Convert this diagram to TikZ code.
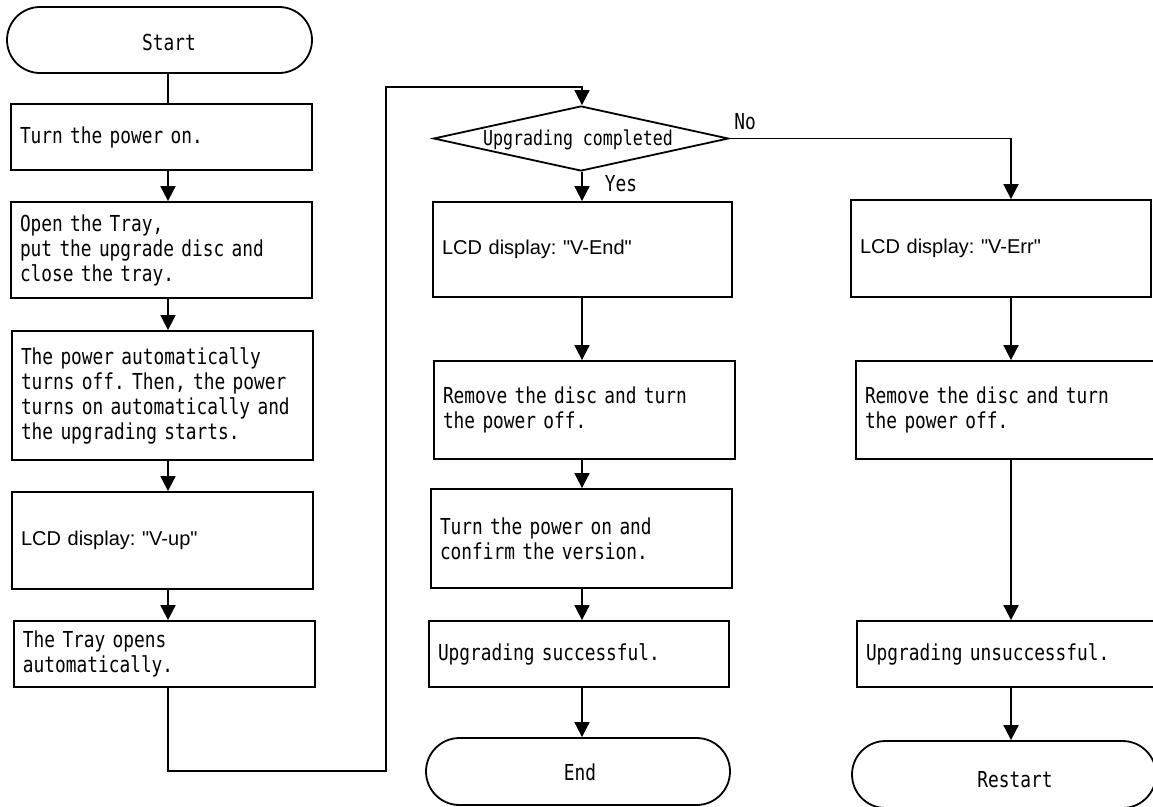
\documentclass[tikz,border=0pt]{standalone}
\usepackage{fontspec}
\newfontfamily\gothic[FakeStretch=0.81]{DejaVu Sans Mono}
\newfontfamily\arialf{Liberation Sans}
\usetikzlibrary{shapes.misc,shapes.geometric,arrows.meta}
\frenchspacing
\begin{document}
\frenchspacing
\begin{tikzpicture}[x=1pt,y=-1pt,line width=1.8pt,
  gfont/.style={font=\gothic\fontsize{22}{25}\selectfont},
  afont/.style={font=\arialf\fontsize{20}{24}\selectfont},
  box/.style={draw,rectangle,inner sep=0pt,inner xsep=9pt,align=left,gfont},
  term/.style={draw,rounded rectangle,rounded rectangle arc length=180,inner sep=0pt},
  dec/.style={draw,diamond,inner sep=0pt,gfont},
  lbl/.style={inner sep=0pt,gfont},
  arr/.style={-{Triangle[width=15pt,length=15pt]}}
]
\useasboundingbox (0,0) rectangle (1153,806);
\coordinate (c1) at (168,0);
\coordinate (c2) at (582,0);
\coordinate (c3) at (1011,0);

% left column
\node[term,minimum width=305pt,minimum height=66pt] (start) at (159.5,40) {};
\node[lbl] (startt) at (169,42) {Start};
\node[box,minimum width=301pt,text width=283pt,minimum height=66pt] (b1) at (161.5,137) {Turn the power on.};
\node[box,minimum width=301pt,text width=283pt,minimum height=96pt] (b2) at (161.5,250) {Open the Tray,\\put the upgrade disc and\\close the tray.};
\node[box,minimum width=301pt,text width=283pt,minimum height=129pt] (b3) at (162.5,395.5) {The power automatically\\turns off. Then, the power\\turns on automatically and\\the upgrading starts.};
\node[box,afont,minimum width=301pt,text width=283pt,minimum height=97pt] (b4) at (162.5,540.5) {LCD display: "V-up"};
\node[box,minimum width=301pt,text width=283pt,minimum height=66pt] (b5) at (164.5,654) {The Tray opens\\automatically.};

% middle column
\node[dec,minimum width=295pt,minimum height=65pt] (d) at (581,138.5) {};
\node[lbl,font=\gothic\fontsize{20.5}{25}\selectfont] (dt) at (578,140) {Upgrading completed};
\node[box,afont,minimum width=299pt,text width=281pt,minimum height=95pt] (m1) at (582.5,249.5) {LCD display: "V-End"};
\node[box,minimum width=301pt,text width=283pt,minimum height=98pt] (m2) at (584.5,410) {Remove the disc and turn\\the power off.};
\node[box,minimum width=301pt,text width=283pt,minimum height=99pt] (m3) at (581.5,538.5) {Turn the power on and\\confirm the version.};
\node[box,minimum width=300pt,text width=282pt,minimum height=66pt] (m4) at (579,654) {Upgrading successful.};
\node[term,minimum width=304pt,minimum height=67pt] (end) at (578,771.5) {};
\node[lbl] (endt) at (580,772) {End};

% right column
\node[box,afont,minimum width=300pt,text width=282pt,minimum height=97pt] (r1) at (1001,248.5) {LCD display: "V-Err"};
\node[box,minimum width=301pt,text width=283pt,minimum height=98pt] (r2) at (1006.5,410) {Remove the disc and turn\\the power off.};
\node[box,minimum width=301pt,text width=283pt,minimum height=66pt] (r3) at (1007.5,654) {Upgrading unsuccessful.};
\node[term,minimum width=304pt,minimum height=67pt] (rs) at (1004,774.5) {};
\node[lbl] (rst) at (1015,780) {Restart};

% labels
\node[lbl] (no) at (745,122) {No};
\node[lbl] (yes) at (621,184) {Yes};

% connectors
\draw (start.south -| c1) -- (b1.north -| c1);
\draw[arr] (b1.south -| c1) -- (b2.north -| c1);
\draw[arr] (b2.south -| c1) -- (b3.north -| c1);
\draw[arr] (b3.south -| c1) -- (b4.north -| c1);
\draw[arr] (b4.south -| c1) -- (b5.north -| c1);
\coordinate (lp1) at (386,771);
\coordinate (lp2) at (386,87);
\draw[arr] (b5.south -| c1) |- (lp1) -- (lp2) -| (d.north -| c2);
\draw[arr] (d.east) -| (r1.north -| c3);
\draw[arr] (d.south -| c2) -- (m1.north -| c2);
\draw[arr] (m1.south -| c2) -- (m2.north -| c2);
\draw[arr] (m2.south -| c2) -- (m3.north -| c2);
\draw[arr] (m3.south -| c2) -- (m4.north -| c2);
\draw[arr] (m4.south -| c2) -- (end.north -| c2);
\draw[arr] (r1.south -| c3) -- (r2.north -| c3);
\draw[arr] (r2.south -| c3) -- (r3.north -| c3);
\draw[arr] (r3.south -| c3) -- (rs.north -| c3);
\end{tikzpicture}
\end{document}
